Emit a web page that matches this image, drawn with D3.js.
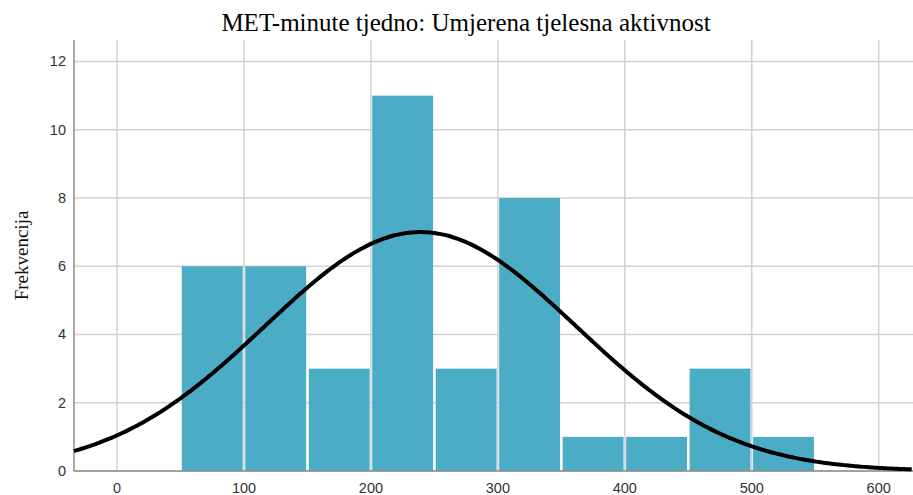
<!DOCTYPE html>
<html>
<head>
<meta charset="utf-8">
<script src="https://cdn.jsdelivr.net/npm/d3@7"></script>
<style>
	body { margin: 0; background: #fff; }
	svg { display: block; }
</style>
</head>
<body>
<svg id="chart"></svg>
<script>
const width = 913;
const height = 495;

// histogram bins (MET-minute) and counts
const binStarts = [50, 100, 150, 200, 250, 300, 350, 400, 450, 500];
const binWidth = 50;
const counts = [6, 6, 3, 11, 3, 8, 1, 1, 3, 1];
// normal curve parameters
const curveMean = 239;
const curveSd = 122.5;
const xTicks = [0, 100, 200, 300, 400, 500, 600];
const yTicks = [0, 2, 4, 6, 8, 10, 12];

const margin = { top: 40, right: 0, bottom: 24, left: 74 };

const svg = d3.select("#chart")
	.attr("width", width)
	.attr("height", height);

const x = d3.scaleLinear()
	.domain([-33.9, 627])
	.range([margin.left, width - margin.right]);
const y = d3.scaleLinear()
	.domain([0, 12.63])
	.range([height - margin.bottom, margin.top]);

// gridlines
svg.append("g")
	.selectAll("line")
	.data(yTicks)
	.join("line")
	.attr("x1", margin.left)
	.attr("x2", width - margin.right)
	.attr("y1", d => y(d))
	.attr("y2", d => y(d))
	.attr("stroke", "#d2d2d2")
	.attr("stroke-width", 1.5);
svg.append("g")
	.selectAll("line")
	.data(xTicks)
	.join("line")
	.attr("x1", d => x(d))
	.attr("x2", d => x(d))
	.attr("y1", margin.top)
	.attr("y2", y(0))
	.attr("stroke", "#d2d2d2")
	.attr("stroke-width", 1.5);

// bars, small gap between so the grid shows through
const bins = binStarts.map((s, i) => ({ x0: s, x1: s + binWidth, n: counts[i] }));
const gap = 1.3;
svg.append("g")
	.selectAll("rect")
	.data(bins)
	.join("rect")
	.attr("x", d => x(d.x0) + gap)
	.attr("width", d => x(d.x1) - x(d.x0) - 2 * gap)
	.attr("y", d => y(d.n))
	.attr("height", d => y(0) - y(d.n))
	.attr("fill", "#4bacc6");

// axes lines
svg.append("line")
	.attr("x1", margin.left).attr("x2", margin.left)
	.attr("y1", margin.top).attr("y2", y(0))
	.attr("stroke", "#8c8c8c").attr("stroke-width", 1.5);
svg.append("line")
	.attr("x1", margin.left).attr("x2", width - margin.right)
	.attr("y1", y(0)).attr("y2", y(0))
	.attr("stroke", "#8c8c8c").attr("stroke-width", 1.5);

// normal curve
const total = d3.sum(counts);
const scaleK = total * binWidth / (curveSd * Math.sqrt(2 * Math.PI));
const curvePts = d3.range(-34, 628, 2).map(v => [v, scaleK * Math.exp(-((v - curveMean) ** 2) / (2 * curveSd * curveSd))]);
svg.append("path")
	.datum(curvePts)
	.attr("fill", "none")
	.attr("stroke", "#000")
	.attr("stroke-width", 4)
	.attr("d", d3.line().x(d => x(d[0])).y(d => y(d[1])).curve(d3.curveBasis));

// tick labels
svg.append("g")
	.selectAll("text")
	.data(xTicks)
	.join("text")
	.attr("x", d => x(d))
	.attr("y", 493)
	.attr("text-anchor", "middle")
	.attr("font-family", "Liberation Sans, Arial, sans-serif")
	.attr("font-size", 14.5)
	.attr("fill", "#333")
	.text(d => d);
svg.append("g")
	.selectAll("text")
	.data(yTicks)
	.join("text")
	.attr("x", 66)
	.attr("y", d => y(d) + 5)
	.attr("text-anchor", "end")
	.attr("font-family", "Liberation Sans, Arial, sans-serif")
	.attr("font-size", 14.5)
	.attr("fill", "#333")
	.text(d => d);

// title and y label
svg.append("text")
	.attr("x", 466)
	.attr("y", 31)
	.attr("text-anchor", "middle")
	.attr("font-family", "Liberation Serif, Times New Roman, serif")
	.attr("font-size", 25)
	.attr("fill", "#000")
	.text("MET-minute tjedno: Umjerena tjelesna aktivnost");
svg.append("text")
	.attr("transform", `translate(28,${(margin.top + y(0)) / 2}) rotate(-90)`)
	.attr("text-anchor", "middle")
	.attr("font-family", "Liberation Serif, Times New Roman, serif")
	.attr("font-size", 19)
	.attr("fill", "#111")
	.text("Frekvencija");
</script>
</body>
</html>
